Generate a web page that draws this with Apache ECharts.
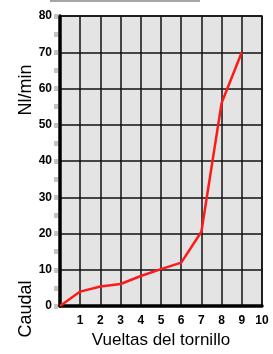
<!DOCTYPE html>
<html>
<head>
<meta charset="utf-8">
<script src="https://cdn.jsdelivr.net/npm/echarts@6/dist/echarts.min.js"></script>
<style>
html, body { margin: 0; padding: 0; background: #fff; }
#chart { width: 273px; height: 354px; }
</style>
</head>
<body>
<div id="chart"></div>
<script>
// vueltas del tornillo y caudal
var vueltas = [0, 1, 2, 3, 4, 5, 6, 7, 8, 9];
var caudal = [0, 4, 5.4, 6.1, 8.3, 10.2, 12, 20.5, 56, 70];
var xTicks = [1, 2, 3, 4, 5, 6, 7, 8, 9, 10];
var yTicks = [0, 10, 20, 30, 40, 50, 60, 70, 80];

var puntos = [];
for (var i = 0; i < vueltas.length; i++) {
    puntos.push([vueltas[i], caudal[i]]);
}

var myChart = echarts.init(document.getElementById('chart'));
var option = {
    animation: false,
    backgroundColor: '#fff',
    grid: {
        left: 60, right: 11, top: 16, bottom: 43,
        show: true,
        backgroundColor: '#e4e4e4',
        borderColor: '#111',
        borderWidth: 1.5
    },
    xAxis: {
        type: 'value',
        min: 0, max: 10, interval: 1,
        name: 'Vueltas del tornillo',
        nameLocation: 'middle',
        nameGap: 25,
        nameTextStyle: { fontFamily: 'Liberation Sans', fontSize: 17, color: '#000' },
        axisLine: { lineStyle: { color: '#000', width: 3.5 } },
        axisTick: { show: false },
        axisLabel: {
            margin: 9,
            fontFamily: 'Liberation Sans', fontWeight: 'bold', fontSize: 12, color: '#000',
            formatter: function (v) { return xTicks.indexOf(v) >= 0 ? String(v) : ''; }
        },
        splitLine: { show: true, lineStyle: { color: '#111', width: 1.5 } },
        z: 3
    },
    yAxis: [{
        type: 'value',
        min: 0, max: 80, interval: 10,
        axisLine: { show: true, lineStyle: { color: '#000', width: 3.5 } },
        axisTick: { show: false },
        axisLabel: {
            margin: 8,
            fontFamily: 'Liberation Sans', fontWeight: 'bold', fontSize: 12, color: '#000',
            formatter: function (v) { return yTicks.indexOf(v) >= 0 ? String(v) : ''; }
        },
        splitLine: { show: true, lineStyle: { color: '#111', width: 1.5 } },
        z: 3
    }, {
        // solo las marcas grises cada 5 unidades
        type: 'value',
        position: 'left',
        offset: 2,
        min: 0, max: 80, interval: 10,
        axisLine: { show: false },
        axisTick: { show: true, length: 4, lineStyle: { color: '#c4c4c4', width: 5 } },
        minorTick: { show: true, splitNumber: 2, length: 4, lineStyle: { color: '#c4c4c4', width: 5 } },
        axisLabel: { show: false },
        splitLine: { show: false }
    }],
    series: [{
        type: 'line',
        data: puntos,
        showSymbol: false,
        lineStyle: { color: '#ff1a1a', width: 2.5 },
        z: 5
    }],
    graphic: [
        {
            type: 'line',
            shape: { x1: 50, y1: 1, x2: 200, y2: 1 },
            style: { stroke: '#888', lineWidth: 1.5 }
        },
        {
            type: 'text',
            x: 26, y: 90, rotation: Math.PI / 2,
            style: { text: 'Nl/min', fontFamily: 'Liberation Sans', fontSize: 18, fill: '#000', align: 'center', verticalAlign: 'middle' }
        },
        {
            type: 'text',
            x: 26, y: 309, rotation: Math.PI / 2,
            style: { text: 'Caudal', fontFamily: 'Liberation Sans', fontSize: 18, fill: '#000', align: 'center', verticalAlign: 'middle' }
        }
    ]
};
myChart.setOption(option);
</script>
</body>
</html>
